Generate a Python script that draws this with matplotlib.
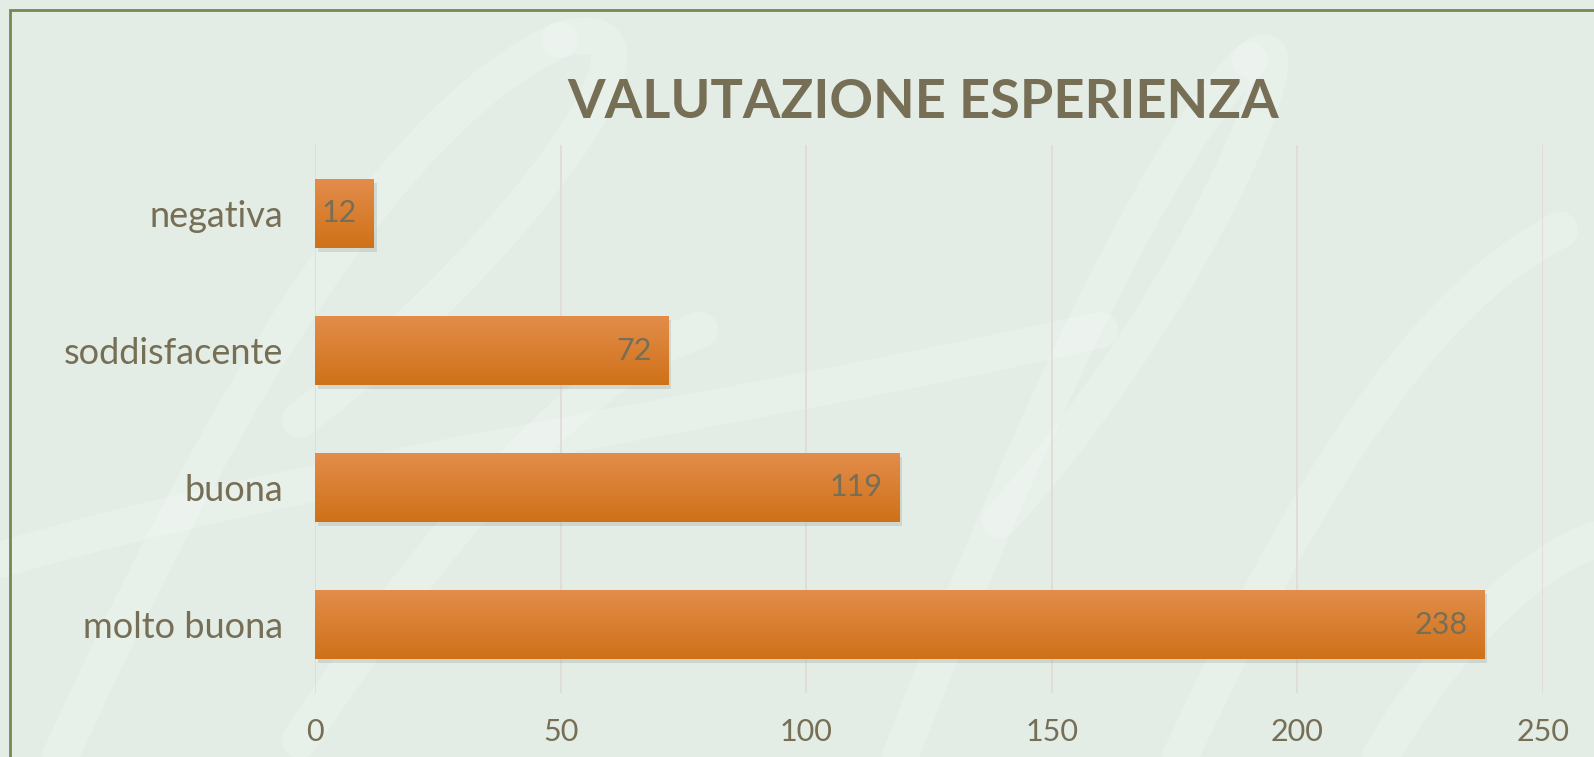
import numpy as np
import matplotlib
matplotlib.use("Agg")
import matplotlib.pyplot as plt
import matplotlib.patches as patches
import matplotlib.patheffects as pe
from matplotlib.path import Path
from matplotlib.colors import LinearSegmentedColormap

categories = ['molto buona', 'buona', 'soddisfacente', 'negativa']
values = [238, 119, 72, 12]
xticks = [0, 50, 100, 150, 200, 250]
title = 'VALUTAZIONE ESPERIENZA'

BG = '#e3ede6'
TXT = '#766f56'
plt.rcParams['font.family'] = ['Lato', 'DejaVu Sans']

fig = plt.figure(figsize=(15.94, 7.57), dpi=100, facecolor=BG)

# faint watermark strokes (script letters) behind the chart
wm = fig.add_axes([0, 0, 1, 1], zorder=0)
wm.set_axis_off()
wm.set_xlim(0, 1594); wm.set_ylim(757, 0)
strokes = [
    [(60, 757), (200, 450), (380, 120), (560, 40)],
    [(560, 40), (700, 0), (520, 250), (300, 420)],
    [(300, 740), (420, 560), (560, 380), (700, 330)],
    [(900, 757), (1000, 500), (1150, 150), (1250, 60)],
    [(1250, 60), (1320, 0), (1200, 300), (1000, 520)],
    [(1180, 757), (1300, 500), (1420, 300), (1560, 230)],
    [(0, 560), (300, 470), (700, 420), (1100, 330)],
    [(1380, 757), (1460, 620), (1540, 560), (1594, 540)],
]
for pts in strokes:
    path = Path(pts, [Path.MOVETO, Path.CURVE4, Path.CURVE4, Path.CURVE4])
    wm.add_patch(patches.PathPatch(path, fill=False, edgecolor='white', linewidth=26,
                                   alpha=0.2, capstyle='round'))

# border
fig.patches.append(patches.Rectangle((10/1594, -0.05), 1.2, 1 - 10/757 + 0.05,
                                     transform=fig.transFigure, fill=False,
                                     edgecolor='#76884f', linewidth=2, zorder=5))

ax = fig.add_axes([315/1594, 1 - 693/757, 1228/1594, 548/757], zorder=1)
ax.patch.set_alpha(0)
ax.set_xlim(0, 250)
ax.set_ylim(-0.5, 3.5)
for s in ax.spines.values():
    s.set_visible(False)
ax.set_xticks(xticks)
ax.xaxis.grid(True, color='#e0dad5', linewidth=1.2)
ax.set_axisbelow(True)
ax.tick_params(axis='x', length=0, pad=18, labelsize=22, labelcolor=TXT)
ax.tick_params(axis='y', length=0, pad=23, labelsize=26, labelcolor=TXT)
ax.set_yticks(range(len(categories)))
ax.set_yticklabels(categories)

cmap = LinearSegmentedColormap.from_list('bar', ['#e38d4b', '#cf7118'])
grad = np.linspace(0, 1, 256).reshape(-1, 1)
bars = ax.barh(range(len(categories)), values, height=0.5, color='#d97c2e', zorder=2,
               path_effects=[pe.SimplePatchShadow(offset=(2, -3), shadow_rgbFace='#8a958c', alpha=0.25),
                             pe.Normal()])
for b, v in zip(bars, values):
    x0, y0, w, h = b.get_x(), b.get_y(), b.get_width(), b.get_height()
    im = ax.imshow(grad, cmap=cmap, aspect='auto', extent=(x0, x0 + w, y0, y0 + h),
                   origin='upper', zorder=3)
    im.set_clip_path(b)
    ax.annotate(str(v), (x0 + w, y0 + h / 2), xytext=(-12, 0), textcoords='offset points',
                ha='right', va='center', fontsize=22, color=TXT, zorder=4)

fig.text(923/1594, 1 - 102/757, title, ha='center', va='center', fontsize=39,
         fontweight='bold', color=TXT)

fig.savefig('out.png', dpi=100, facecolor=BG)
